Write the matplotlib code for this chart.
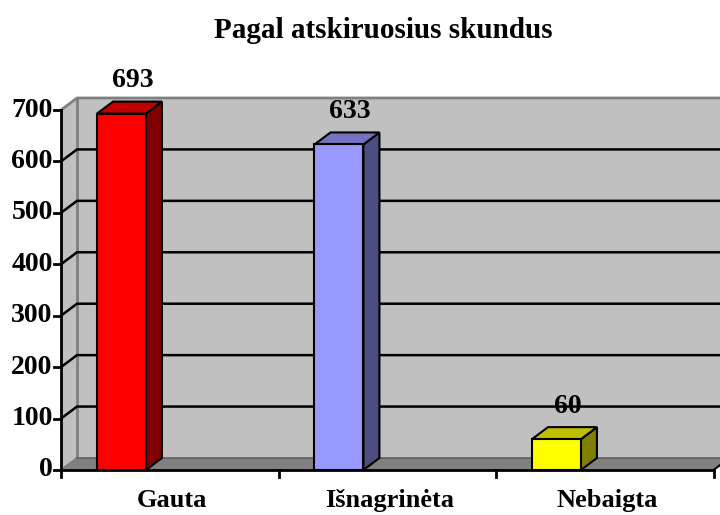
import matplotlib
matplotlib.use("Agg")
import matplotlib.pyplot as plt
from matplotlib.patches import Polygon, Rectangle

title = "Pagal atskiruosius skundus"
categories = ["Gauta", "Išnagrinėta", "Nebaigta"]
values = [693, 633, 60]
front_colors = ["#FF0000", "#9999FF", "#FFFF00"]
top_colors = ["#C00000", "#7373BF", "#BFBF00"]
side_colors = ["#800000", "#4D4D80", "#808000"]
yticks = [0, 100, 200, 300, 400, 500, 600, 700]

plt.rcParams['font.family'] = ['Liberation Serif', 'DejaVu Serif']

fig = plt.figure(figsize=(7.2, 5.15), dpi=100)
ax = fig.add_axes([61/720, 45/515, 652.5/720, 360/515])
ymax = 700
ax.set_xlim(0, 3)
ax.set_ylim(0, ymax)
ax.axis('off')

# depth offsets in data units
dx = 16/217.5
dy = 12/0.514

wall = "#C0C0C0"
edge = "#808080"
# back wall
ax.add_patch(Polygon([(dx, dy), (3+dx, dy), (3+dx, ymax+dy), (dx, ymax+dy)],
                     closed=True, facecolor=wall, edgecolor='none', clip_on=False, zorder=1))
# left wall
ax.add_patch(Polygon([(0, 0), (dx, dy), (dx, ymax+dy), (0, ymax)],
                     closed=True, facecolor=wall, edgecolor='none', clip_on=False, zorder=1))
# floor
ax.add_patch(Polygon([(0, 0), (3, 0), (3+dx, dy), (dx, dy)],
                     closed=True, facecolor=edge, edgecolor='none', clip_on=False, zorder=1))
# wall edges
ax.plot([dx, dx], [dy, ymax+dy], color=edge, lw=2, clip_on=False, zorder=2)
ax.plot([0, dx, 3+dx], [ymax, ymax+dy, ymax+dy], color=edge, lw=2, clip_on=False, zorder=2)
ax.plot([0, dx], [0, dy], color=edge, lw=1.5, clip_on=False, zorder=2)
ax.plot([3, 3+dx], [0, dy], color='black', lw=1.5, clip_on=False, zorder=2)
ax.plot([dx, 3+dx], [dy, dy], color='#606060', lw=1.2, clip_on=False, zorder=2)

# gridlines
for v in yticks[1:-1]:
    ax.plot([0, dx, 3+dx], [v, v+dy, v+dy], color='black', lw=1.8,
            clip_on=False, zorder=2, solid_joinstyle='miter')

# bars
bw = 0.225
bc = 0.278
for i, (val, fc, tc, sc) in enumerate(zip(values, front_colors, top_colors, side_colors)):
    x0 = i + bc - bw/2
    x1 = x0 + bw
    ax.add_patch(Polygon([(x1, 0), (x1+dx, dy), (x1+dx, val+dy), (x1, val)],
                         closed=True, facecolor=sc, edgecolor='black', lw=1.5,
                         clip_on=False, zorder=4, joinstyle='miter'))
    ax.add_patch(Polygon([(x0, val), (x1, val), (x1+dx, val+dy), (x0+dx, val+dy)],
                         closed=True, facecolor=tc, edgecolor='black', lw=1.5,
                         clip_on=False, zorder=4, joinstyle='miter'))
    ax.add_patch(Rectangle((x0, 0), bw, val, facecolor=fc, edgecolor='black', lw=1.5,
                           clip_on=False, zorder=5, joinstyle='miter'))
    ax.text(i + bc + 0.05, val + 64, str(val), ha='center', va='center',
            fontsize=20, fontweight='bold', zorder=6, clip_on=False)

# axes lines
ax.plot([0, 0], [0, ymax], color='black', lw=2, clip_on=False, zorder=6)
ax.plot([0, 3], [0, 0], color='black', lw=2, clip_on=False, zorder=6)
tl = 7/217.5
for v in yticks:
    ax.plot([-tl, 0], [v, v], color='black', lw=2, clip_on=False, zorder=6)
    ax.text(-tl - 0.006, v, str(v), ha='right', va='center', fontsize=20,
            fontweight='bold', clip_on=False)
tv = 7/0.514
for k in range(4):
    ax.plot([k, k], [0, -tv], color='black', lw=2, clip_on=False, zorder=6)
for i, c in enumerate(categories):
    ax.text(i + 0.51, -60, c, ha='center', va='center', fontsize=19,
            fontweight='bold', clip_on=False)

fig.text(383/720, 1 - 30/515, title, ha='center', va='center', fontsize=21,
         fontweight='bold')

fig.savefig("out.png", dpi=100)
